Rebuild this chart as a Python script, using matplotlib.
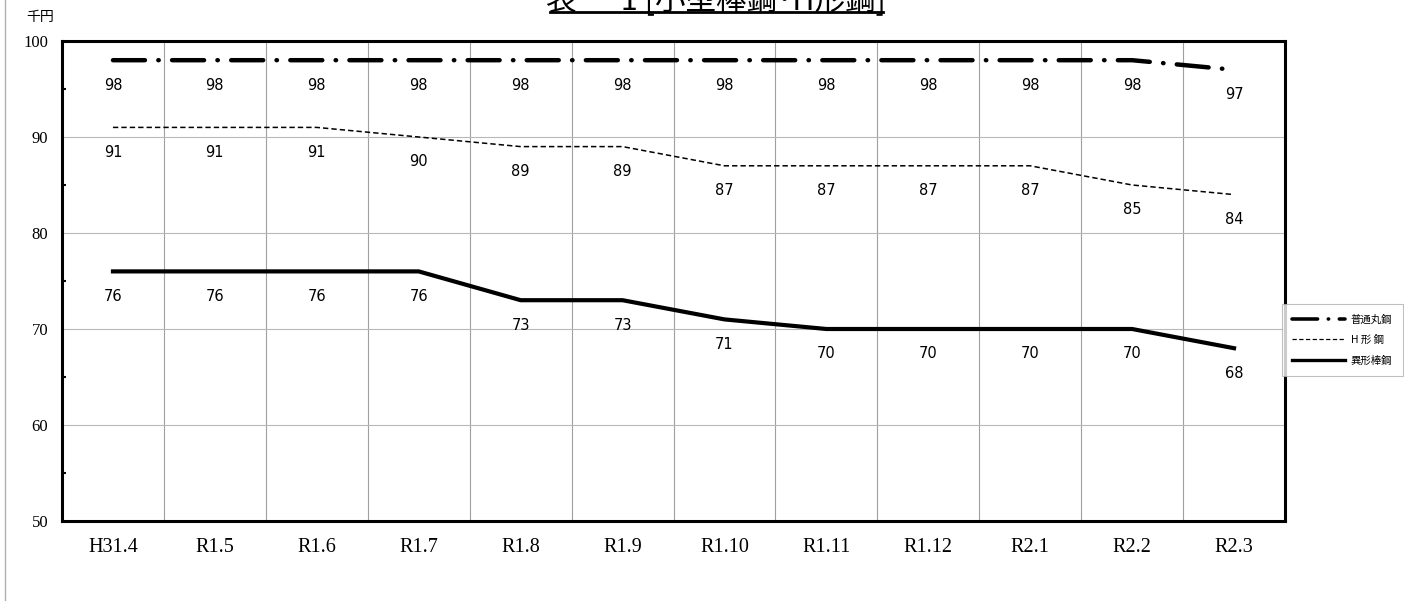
import matplotlib.pyplot as plt
from matplotlib.lines import Line2D

plt.rcParams['font.family'] = ['Noto Sans CJK JP', 'DejaVu Sans']

months = ['H31.4', 'R1.5', 'R1.6', 'R1.7', 'R1.8', 'R1.9', 'R1.10', 'R1.11', 'R1.12', 'R2.1', 'R2.2', 'R2.3']
round_bar = [98, 98, 98, 98, 98, 98, 98, 98, 98, 98, 98, 97]
h_beam = [91, 91, 91, 90, 89, 89, 87, 87, 87, 87, 85, 84]
deformed_bar = [76, 76, 76, 76, 73, 73, 71, 70, 70, 70, 70, 68]
series_names = ['普通丸鋼', 'H 形 鋼', '異形棒鋼']

W, H = 1404, 601
fig = plt.figure(figsize=(W / 100, H / 100), dpi=100)
ax = fig.add_axes([62 / W, 1 - 521 / H, (1285 - 62) / W, (521 - 41) / H])

x = list(range(len(months)))
l1, = ax.plot(x, round_bar, color='black', lw=3.2, dashes=(7.2, 3.0, 0.1, 3.0),
              dash_capstyle='round', solid_capstyle='round')
l2, = ax.plot(x, h_beam, color='black', lw=1.1, dashes=(3.5, 2))
l3, = ax.plot(x, deformed_bar, color='black', lw=3.0)

for vals in (round_bar, h_beam, deformed_bar):
    for i, v in enumerate(vals):
        ax.annotate(str(v), (i, v), xytext=(0, -18), textcoords='offset points',
                    ha='center', va='center', fontsize=10.5, family='DejaVu Sans')

ax.set_xlim(-0.5, len(months) - 0.5)
ax.set_ylim(50, 100)
ax.set_yticks([50, 60, 70, 80, 90, 100])
ax.set_yticks([55, 65, 75, 85, 95], minor=True)
ax.set_xticks(x)
ax.set_xticklabels(months, family='Liberation Serif', fontsize=14.5)
ax.set_yticklabels([50, 60, 70, 80, 90, 100], family='Liberation Serif', fontsize=12)
ax.tick_params(axis='x', length=0, pad=12)
ax.tick_params(axis='y', which='major', length=0, pad=10)
ax.tick_params(axis='y', which='minor', direction='in', length=3, width=1.5)
for b in [i + 0.5 for i in x[:-1]]:
    ax.axvline(b, color='#a0a0a0', lw=0.8, zorder=0)
ax.grid(axis='y', color='#b8b8b8', lw=0.8)
ax.set_axisbelow(True)
for s in ax.spines.values():
    s.set_linewidth(2.2)

fig.text(40 / W, 1 - 17 / H, '千円', fontsize=10, ha='center', va='center')

# title, mostly cut off by the top edge like in the sheet
fig.text(716 / W, 1 - 9 / H, '表 － 1 [小型棒鋼･H形鋼]', fontsize=22, ha='center', va='baseline')
fig.add_artist(Line2D([550 / W, 883 / W], [1 - 12 / H, 1 - 12 / H], color='black', lw=2))

# outer border of the sheet
fig.add_artist(Line2D([5 / W, 5 / W], [0, 1], color='#b0b0b0', lw=1))

leg = fig.legend([l1, l2, l3], series_names, loc='upper left',
                 bbox_to_anchor=(1282 / W, 1 - 304 / H), fontsize=7.5, frameon=True,
                 fancybox=False, edgecolor='#b0b0b0', handlelength=5.0, labelspacing=1.0,
                 borderpad=1.0, borderaxespad=0, handletextpad=0.6)
leg.get_frame().set_linewidth(0.8)
for h in leg.legend_handles:
    h.set_linewidth(h.get_linewidth() * 0.8)

fig.savefig('out.png', dpi=100)
